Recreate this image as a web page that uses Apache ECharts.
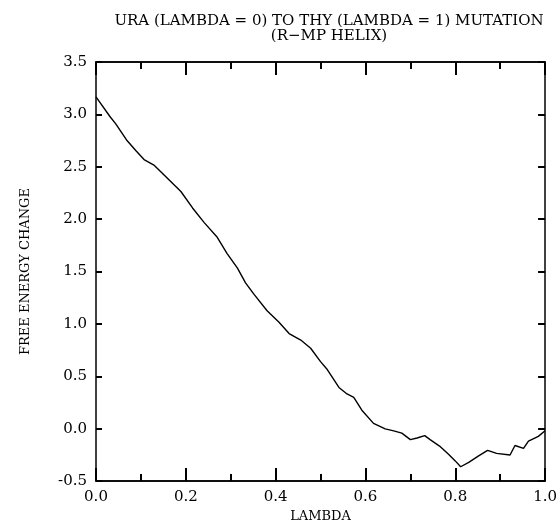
<!DOCTYPE html>
<html>
<head>
<meta charset="utf-8">
<script src="https://cdn.jsdelivr.net/npm/echarts@6/dist/echarts.min.js"></script>
<style>html,body{margin:0;padding:0;background:#fff}#c{width:560px;height:528px}</style>
</head>
<body>
<div id="c"></div>
<script>
var titleLines = ["URA (LAMBDA = 0) TO THY (LAMBDA = 1) MUTATION", "(R\u2212MP HELIX)"];
var xName = "LAMBDA";
var yName = "FREE ENERGY CHANGE";
var lambdaVals = [0.000,0.031,0.044,0.068,0.089,0.107,0.130,0.163,0.189,0.215,0.241,0.270,0.292,0.315,0.333,0.352,0.381,0.407,0.430,0.456,0.478,0.500,0.515,0.541,0.559,0.574,0.592,0.618,0.644,0.663,0.681,0.700,0.715,0.732,0.744,0.765,0.785,0.800,0.812,0.830,0.852,0.872,0.892,0.922,0.933,0.952,0.963,0.985,1.000];
var energyVals = [3.167,2.980,2.910,2.756,2.653,2.569,2.513,2.373,2.264,2.107,1.967,1.827,1.672,1.532,1.392,1.282,1.126,1.018,0.908,0.846,0.768,0.640,0.565,0.394,0.332,0.300,0.177,0.051,-0.001,-0.020,-0.042,-0.104,-0.089,-0.066,-0.104,-0.166,-0.244,-0.307,-0.363,-0.322,-0.260,-0.207,-0.235,-0.251,-0.160,-0.188,-0.119,-0.073,-0.020];

var pts = lambdaVals.map(function(x,i){return [x, energyVals[i]];});
var serif = "DejaVu Serif";
var chart = echarts.init(document.getElementById('c'), null, {renderer:'canvas'});
function aLine(){ return {show:true, onZero:false, lineStyle:{color:'#000', width:1.5}}; }
function aTick(len){ return {show:true, inside:true, length:len, lineStyle:{color:'#000', width:2}}; }
function lbl(){ return {fontFamily:serif, fontSize:15, color:'#000', margin:9, formatter:function(v){return v.toFixed(1);}}; }
function xAx(pos, interval, len, withLabel){
  var a = {type:'value', min:0, max:1, interval:interval, position:pos,
    axisLine:aLine(), axisTick:aTick(len), splitLine:{show:false},
    axisLabel: withLabel ? lbl() : {show:false}};
  if (withLabel) {
    a.name = xName; a.nameLocation = 'middle'; a.nameGap = 26;
    a.nameTextStyle = {fontFamily:serif, fontSize:13, color:'#000'};
  }
  return a;
}
chart.setOption({
  animation:false,
  title:{
    text: titleLines.join('\n'),
    left: 324, top: 9, textAlign:'center',
    textStyle:{fontFamily:serif, fontSize:15, fontWeight:'normal', color:'#000', lineHeight:15}
  },
  grid:{left:96, top:62, width:451, height:429},
  xAxis:[
    xAx('bottom', 0.2, 13, true),
    xAx('bottom', 0.1, 7, false),
    xAx('top', 0.2, 13, false),
    xAx('top', 0.1, 7, false)
  ],
  yAxis:[{
    type:'value', min:-0.5, max:3.5, interval:0.5, position:'left',
    axisLine:aLine(), axisTick:aTick(6),
    splitLine:{show:false},
    axisLabel:lbl(),
    name:yName, nameLocation:'middle', nameGap:64, nameRotate:90,
    nameTextStyle:{fontFamily:serif, fontSize:13, color:'#000'}
  },{
    type:'value', min:-0.5, max:3.5, interval:0.5, position:'right',
    axisLine:aLine(), axisTick:aTick(7),
    splitLine:{show:false}, axisLabel:{show:false}
  }],
  series:[{
    type:'line', data:pts,
    showSymbol:false, symbol:'none',
    lineStyle:{color:'#000', width:1.4}
  }]
});
</script>
</body>
</html>
